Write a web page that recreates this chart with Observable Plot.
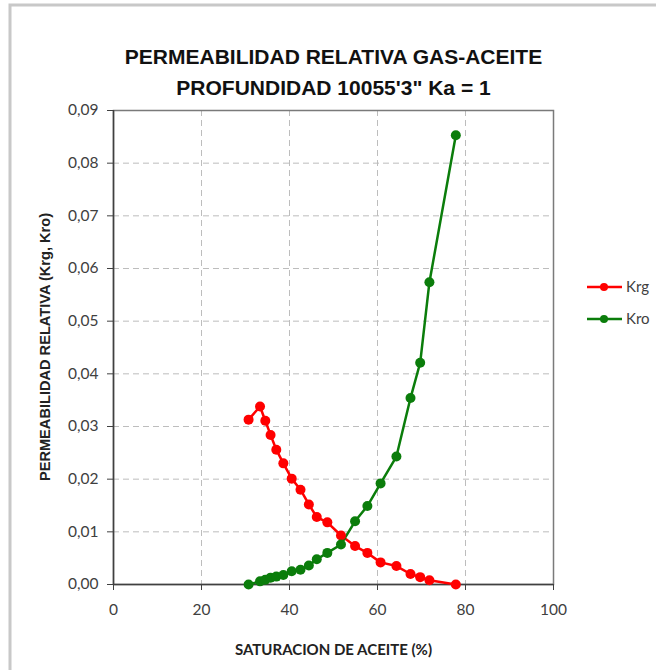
<!DOCTYPE html>
<html><head><meta charset="utf-8">
<script src="https://cdn.jsdelivr.net/npm/d3@7"></script>
<script src="https://cdn.jsdelivr.net/npm/@observablehq/plot@0.6"></script>
<style>body{margin:0;background:#fff;} #chart{position:relative;width:656px;height:670px;}</style>
</head><body><div id="chart"></div>
<script>
const saturation = [30.7, 33.3, 34.5, 35.7, 37.0, 38.6, 40.5, 42.5, 44.4, 46.2, 48.6, 51.7, 54.9, 57.7, 60.7, 64.3, 67.5, 69.7, 71.8, 77.8];
const krg = [0.0313, 0.0338, 0.0311, 0.0284, 0.0256, 0.0230, 0.0201, 0.0180, 0.0152, 0.0128, 0.0118, 0.0093, 0.0073, 0.0060, 0.0042, 0.0035, 0.0020, 0.0014, 0.0008, 0.0000];
const kro = [0.0000, 0.0006, 0.0009, 0.0013, 0.0015, 0.0018, 0.0025, 0.0028, 0.0036, 0.0048, 0.0060, 0.0076, 0.0120, 0.0149, 0.0192, 0.0243, 0.0354, 0.0421, 0.0574, 0.0853];
const xTicks = [0, 20, 40, 60, 80, 100];
const yTicks = [0, 0.01, 0.02, 0.03, 0.04, 0.05, 0.06, 0.07, 0.08, 0.09];
const seriesNames = ["Krg", "Kro"];
const seriesColors = ["#ff0000", "#0b7d0b"];
const titleLines = ["PERMEABILIDAD RELATIVA GAS-ACEITE", "PROFUNDIDAD 10055'3\" Ka = 1"];
const xLabel = "SATURACION DE ACEITE (%)";
const yLabel = "PERMEABILIDAD RELATIVA (Krg, Kro)";

const seriesValues = [krg, kro];
const data = seriesNames.flatMap((name, s) => saturation.map((x, i) => ({series: name, x, y: seriesValues[s][i]})));

const labelFont = "Lato, 'Open Sans', sans-serif";
const titleFont = "'Liberation Sans', Arial, sans-serif";

const plot = Plot.plot({
  width: 656, height: 670,
  marginLeft: 113, marginRight: 103, marginTop: 110, marginBottom: 86,
  style: {fontFamily: labelFont, fontSize: "15px", color: "#404040", background: "transparent", overflow: "visible"},
  x: {domain: [0, 100], label: null},
  y: {domain: [0, 0.09], label: null},
  color: {domain: seriesNames, range: seriesColors},
  marks: [
    Plot.gridX(xTicks, {stroke: "#bdbdbd", strokeOpacity: 1, strokeDasharray: "6,4"}),
    Plot.gridY(yTicks, {stroke: "#bdbdbd", strokeOpacity: 1, strokeDasharray: "6,4"}),
    Plot.frame({stroke: "#7a7a7a", strokeWidth: 1.5}),
    Plot.axisX(xTicks, {tickSize: 6, tickPadding: 13, tickFormat: d => String(d), label: null, fontSize: 15.5}),
    Plot.axisY(yTicks, {tickSize: 6, tickPadding: 9, tickFormat: d => d.toFixed(2).replace(".", ","), label: null, fontSize: 15.5}),
    Plot.ruleX([0], {stroke: "#404040", strokeWidth: 1.5}),
    Plot.ruleY([0], {stroke: "#404040", strokeWidth: 1.5}),
    Plot.line(data, {x: "x", y: "y", z: "series", stroke: "series", strokeWidth: 2.5}),
    Plot.dot(data, {x: "x", y: "y", fill: "series", r: 5}),
    Plot.text([titleLines[0]], {text: d => d, frameAnchor: "top", dy: -53, lineAnchor: "middle", fontFamily: titleFont, fontWeight: "bold", fontSize: 21, fill: "#111"}),
    Plot.text([titleLines[1]], {text: d => d, frameAnchor: "top", dy: -22, lineAnchor: "middle", fontFamily: titleFont, fontWeight: "bold", fontSize: 21, fill: "#111"}),
    Plot.text([xLabel], {text: d => d, frameAnchor: "bottom", dy: 66, lineAnchor: "middle", fontWeight: "bold", fontSize: 15, fill: "#222"})
  ]
});

document.getElementById("chart").appendChild(plot);

const svg = d3.select(plot);
// outer chart border
svg.insert("path", ":first-child")
  .attr("d", "M10,670 L10,5 L656,5")
  .attr("fill", "none").attr("stroke", "#c8c8c8").attr("stroke-width", 3);

// y axis title
svg.append("text")
  .attr("transform", "translate(45,347) rotate(-90)")
  .attr("text-anchor", "middle").attr("dy", "0.35em")
  .attr("font-family", titleFont).attr("font-weight", "bold").attr("font-size", 14.6)
  .attr("fill", "#222").text(yLabel);

// legend
const legend = svg.append("g").attr("font-family", labelFont).attr("font-size", 15).attr("text-anchor", "start");
seriesNames.forEach((name, i) => {
  const y = 287 + i * 32;
  legend.append("line").attr("x1", 587).attr("x2", 622).attr("y1", y).attr("y2", y)
    .attr("stroke", seriesColors[i]).attr("stroke-width", 2.5);
  legend.append("circle").attr("cx", 604).attr("cy", y).attr("r", 4).attr("fill", seriesColors[i]);
  legend.append("text").attr("x", 626).attr("y", y).attr("dy", "0.35em").attr("fill", "#404040").text(name);
});
</script>
</body></html>
